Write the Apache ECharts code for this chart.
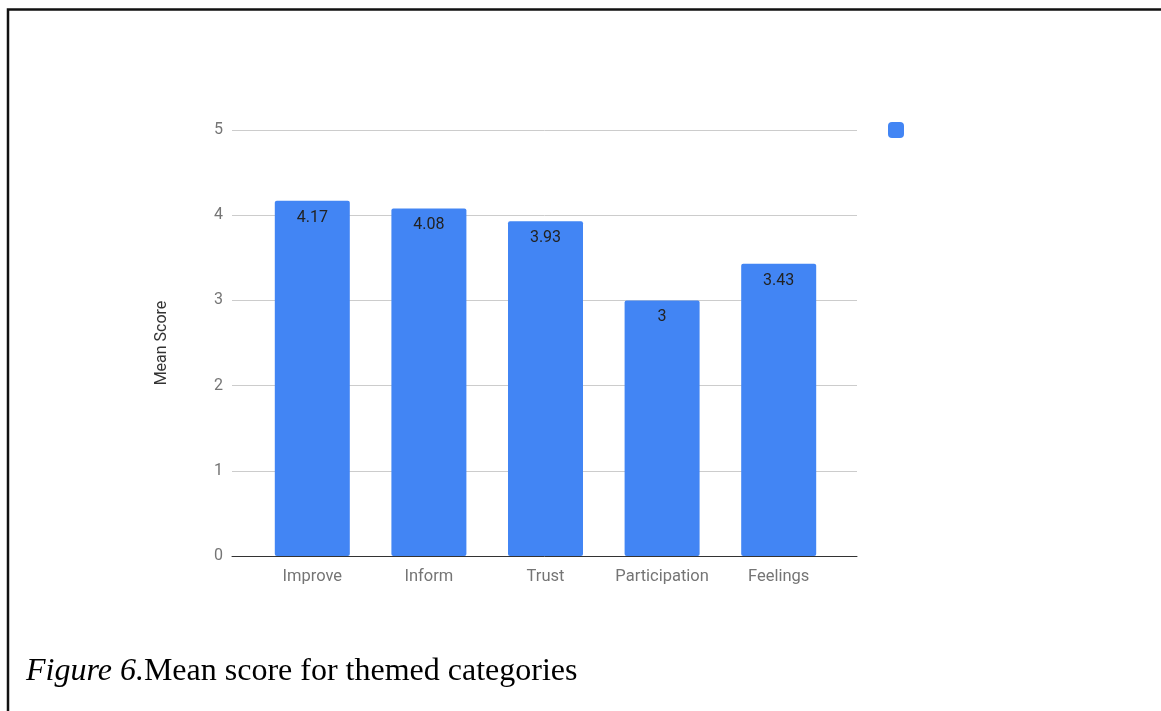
<!DOCTYPE html>
<html>
<head>
<meta charset="utf-8">
<style>
  html, body { margin: 0; padding: 0; background: #fff; }
  #chart { width: 1161px; height: 711px; }
</style>
<script src="https://cdn.jsdelivr.net/npm/echarts@6/dist/echarts.min.js"></script>
</head>
<body>
<div id="chart"></div>
<script>
// Themed categories and their mean scores
const categories = ['Improve', 'Inform', 'Trust', 'Participation', 'Feelings'];
const meanScores = [4.17, 4.08, 3.93, 3, 3.43];
const yTicks = [0, 1, 2, 3, 4, 5];

const chart = echarts.init(document.getElementById('chart'));
const axisFont = 'Roboto, Arial, sans-serif';
const serifFont = '"Liberation Serif", "Times New Roman", serif';

chart.setOption({
  animation: false,
  backgroundColor: '#ffffff',
  grid: [
    // frame grid: gridlines + baseline span the wider area
    { left: 232, right: 304, top: 130, bottom: 155 },
    // bar grid: categories sit inside the gridlines
    { left: 254, right: 324, top: 130, bottom: 155 }
  ],
  legend: {
    data: [' '],
    left: 883, top: 117,
    itemWidth: 16, itemHeight: 16,
    icon: 'roundRect',
    textStyle: { fontSize: 1, color: '#fff' }
  },
  xAxis: [
    {
      gridIndex: 0, type: 'value', min: 0, max: 1,
      axisLine: { show: true, onZero: false, lineStyle: { color: '#333', width: 1 } },
      axisTick: { show: false }, axisLabel: { show: false }, splitLine: { show: false }
    },
    {
      gridIndex: 1, type: 'category', data: categories,
      axisLine: { show: false }, axisTick: { show: false },
      axisLabel: { interval: 0, color: '#757575', fontFamily: axisFont, fontSize: 16.5, margin: 12 }
    }
  ],
  yAxis: [
    {
      gridIndex: 0, type: 'value', min: yTicks[0], max: yTicks[yTicks.length - 1], interval: 1,
      name: 'Mean Score', nameLocation: 'middle', nameGap: 62,
      nameTextStyle: { color: '#333', fontFamily: axisFont, fontSize: 16 },
      axisLine: { show: false }, axisTick: { show: false },
      axisLabel: { color: '#757575', fontFamily: axisFont, fontSize: 16, margin: 9 },
      splitLine: { lineStyle: { color: '#cccccc', width: 1 } }
    },
    {
      gridIndex: 1, type: 'value', min: 0, max: 5, show: false
    }
  ],
  series: [{
    name: ' ',
    type: 'bar',
    xAxisIndex: 1, yAxisIndex: 1,
    data: meanScores,
    barWidth: 75,
    itemStyle: { color: '#4285f4', borderRadius: 2 },
    label: {
      show: true, position: 'insideTop', distance: 9,
      color: '#222', fontFamily: axisFont, fontSize: 16
    }
  }],
  graphic: [
    // page border (left and top edges)
    {
      type: 'polyline',
      shape: { points: [[8, 711], [8, 9.5], [1161, 9.5]] },
      style: { stroke: '#111', lineWidth: 2.5, fill: null }
    },
    {
      type: 'text', left: 26, top: 656,
      style: {
        text: '{i|Figure 6.}Mean score for themed categories',
        fill: '#000',
        font: '32px ' + serifFont,
        rich: {
          i: { fontStyle: 'italic', fontFamily: serifFont, fontSize: 32, fill: '#000' }
        }
      }
    }
  ]
});
</script>
</body>
</html>
